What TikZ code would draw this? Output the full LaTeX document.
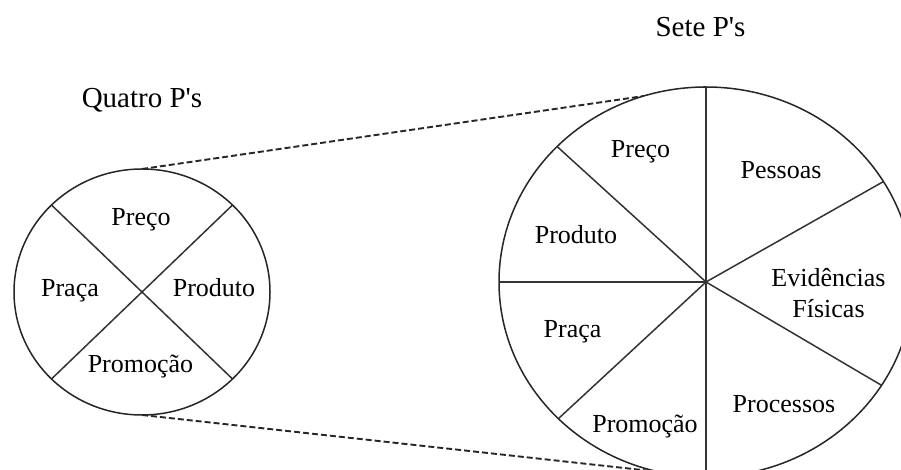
\documentclass[tikz,border=0pt]{standalone}
\usepackage{fontspec}
\setmainfont{Liberation Serif}
\newfontfamily\plainserif{Liberation Serif}
\begin{document}
\begin{tikzpicture}[x=1pt,y=1pt,
  lbl/.style={anchor=base,inner sep=0pt,font=\fontsize{26}{31}\selectfont},
  ttl/.style={lbl,font=\plainserif\fontsize{29}{34}\selectfont},
  ring/.style={draw=black!85,line width=1.5pt},
  divider/.style={draw=black!80,line width=1.5pt},
  zoomline/.style={draw=black!85,line width=1.9pt,dash pattern=on 6pt off 3pt}]
\useasboundingbox (0,0) rectangle (901,470);
\clip (0,0) rectangle (901,470);
% centres
\coordinate (sc) at (142,178);
\coordinate (bc) at (706,188);
\coordinate (stop) at (142,301);
\coordinate (sbot) at (142,55);
\coordinate (btop) at (706,383);
\coordinate (bbot) at (706,-7);
% zoom lines
\draw[zoomline] (stop) -- (btop);
\draw[zoomline] (sbot) -- (bbot);
% small circle
\draw[ring,fill=white] (sc) ellipse [x radius=128, y radius=123];
\draw[divider] (sc) -- ++(45:128 and 123) coordinate (s1);
\draw[divider] (sc) -- ++(135:128 and 123) coordinate (s2);
\draw[divider] (sc) -- ++(225:128 and 123) coordinate (s3);
\draw[divider] (sc) -- ++(315:128 and 123) coordinate (s4);
% big circle
\draw[ring,fill=white] (bc) ellipse [x radius=207, y radius=195];
\draw[divider] (btop) -- (bbot);
\draw[divider] (bc) -- ++(180:207 and 195) coordinate (b1);
\draw[divider] (bc) -- ++(136:207 and 195) coordinate (b2);
\draw[divider] (bc) -- ++(31:207 and 195) coordinate (b3);
\draw[divider] (bc) -- ++(-32:207 and 195) coordinate (b4);
\draw[divider] (bc) -- ++(224.5:207 and 195) coordinate (b5);
% titles
\node[ttl] (t4) at (142,362) {Quatro P's};
\node[ttl] (t7) at (700.5,433) {Sete P's};
% small labels
\node[lbl] (sp1) at (141,244) {Preço};
\node[lbl] (sp2) at (70,173) {Praça};
\node[lbl] (sp3) at (214,173) {Produto};
\node[lbl] (sp4) at (140.5,97) {Promoção};
% big labels
\node[lbl] (bp1) at (640.5,312) {Preço};
\node[lbl] (bp2) at (781,291) {Pessoas};
\node[lbl] (bp3) at (576,226) {Produto};
\node[lbl,align=center] (bp4) at (828.5,152) {Evidências\\Físicas};
\node[lbl] (bp5) at (572.5,132) {Praça};
\node[lbl] (bp6) at (645,37) {Promoção};
\node[lbl] (bp7) at (784,57) {Processos};
\end{tikzpicture}
\end{document}
